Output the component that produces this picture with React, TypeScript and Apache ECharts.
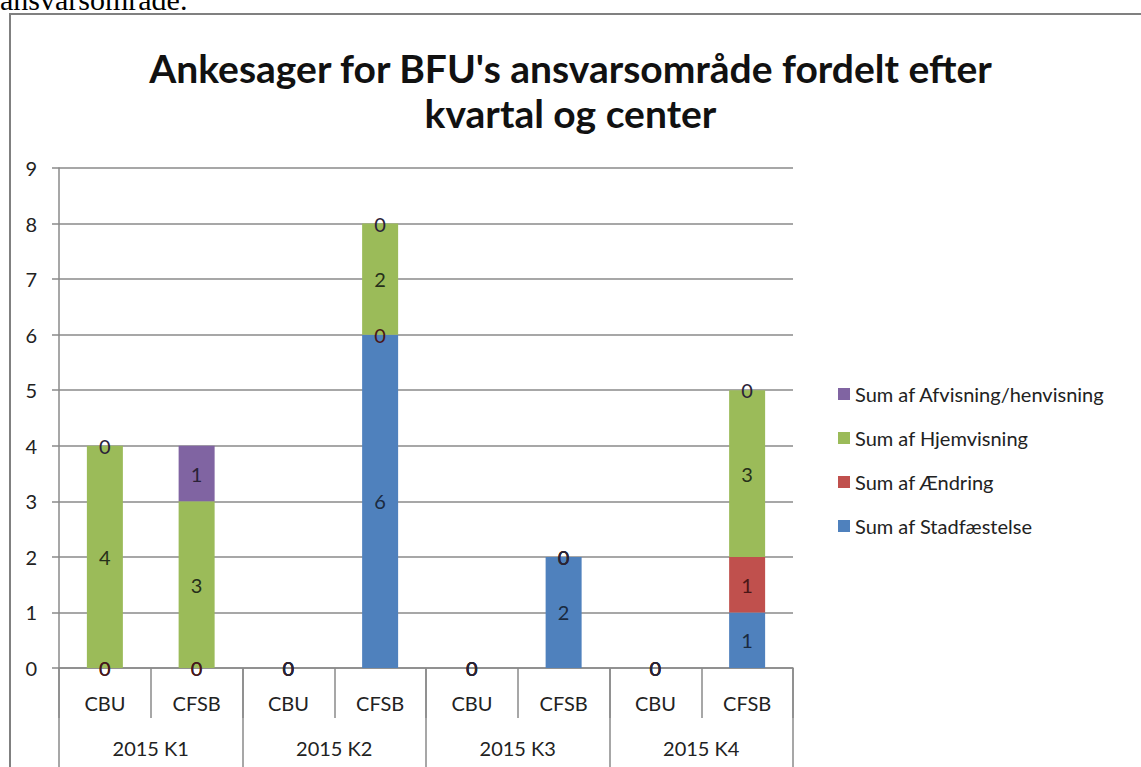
import React, { useEffect, useRef } from "react";
import * as echarts from "echarts";

const centers = ["CBU", "CFSB", "CBU", "CFSB", "CBU", "CFSB", "CBU", "CFSB"];
const quarters = ["2015 K1", "2015 K2", "2015 K3", "2015 K4"];
const seriesNames = [
  "Sum af Stadfæstelse",
  "Sum af Ændring",
  "Sum af Hjemvisning",
  "Sum af Afvisning/henvisning",
];
const stadfaestelse = [0, 0, 0, 6, 0, 2, 0, 1];
const aendring = [0, 0, 0, 0, 0, 0, 0, 1];
const hjemvisning = [4, 3, 0, 2, 0, 0, 0, 3];
const afvisning = [0, 1, 0, 0, 0, 0, 0, 0];
const yMin = 0;
const yMax = 9;
const yStep = 1;

const colors = ["#4F81BD", "#C0504D", "#9BBB59", "#8064A2"];
const labelColors = ["#1a2a40", "#4a1616", "#26301a", "#2a2238"];
const FONT = "Lato, 'Open Sans', sans-serif";

export default function App() {
  const ref = useRef<HTMLDivElement>(null);
  useEffect(() => {
    if (!ref.current) return;
    const chart = echarts.init(ref.current, null, { renderer: "svg" });
    const values = [stadfaestelse, aendring, hjemvisning, afvisning];
    const gridColor = "#8a8a8a";
    chart.setOption({
      animation: false,
      backgroundColor: "#ffffff",
      title: {
        text: "Ankesager for BFU's ansvarsområde fordelt efter\nkvartal og center",
        left: "center",
        top: 45,
        padding: 0,
        textStyle: {
          fontFamily: FONT,
          fontSize: 39,
          fontWeight: "bold",
          color: "#111111",
          lineHeight: 45,
        },
      },
      legend: {
        orient: "vertical",
        left: 833,
        top: 379,
        itemWidth: 12,
        itemHeight: 12,
        itemGap: 24,
        icon: "rect",
        data: [seriesNames[3], seriesNames[2], seriesNames[1], seriesNames[0]],
        textStyle: { fontFamily: FONT, fontSize: 20, color: "#222222" },
      },
      graphic: [
        {
          type: "rect",
          shape: { x: 10, y: 14, width: 1300, height: 900 },
          style: { fill: "none", stroke: "#808080", lineWidth: 2 },
          silent: true,
          z: -1,
        },
        {
          type: "text",
          x: 0,
          y: 14,
          style: {
            text: "ansvarsområde.",
            font: "30px 'Liberation Serif', 'DejaVu Serif', serif",
            fill: "#000000",
            verticalAlign: "bottom",
          },
        },
      ],
      grid: { left: 59, top: 168, width: 734, height: 500, containLabel: false },
      xAxis: [
        {
          type: "category",
          data: centers,
          position: "bottom",
          axisLine: { show: true, lineStyle: { color: gridColor, width: 1.5 } },
          axisTick: { show: true, length: 50, lineStyle: { color: gridColor, width: 1.5 } },
          axisLabel: { margin: 25, fontFamily: FONT, fontSize: 20, color: "#222222" },
          splitLine: { show: false },
        },
        {
          type: "category",
          data: quarters,
          position: "bottom",
          axisLine: { show: false },
          axisTick: { show: true, length: 100, lineStyle: { color: gridColor, width: 1.5 } },
          axisLabel: { margin: 70, fontFamily: FONT, fontSize: 20, color: "#222222" },
          splitLine: { show: false },
        },
      ],
      yAxis: {
        type: "value",
        min: yMin,
        max: yMax,
        interval: yStep,
        axisLine: { show: true, lineStyle: { color: gridColor, width: 1.5 } },
        axisTick: { show: true, length: 7, lineStyle: { color: gridColor, width: 1.5 } },
        axisLabel: { margin: 22, fontFamily: FONT, fontSize: 20, color: "#222222" },
        splitLine: { show: true, lineStyle: { color: gridColor, width: 1.5 } },
      },
      series: seriesNames.map((name, i) => ({
        name,
        type: "bar",
        stack: "total",
        xAxisIndex: 0,
        yAxisIndex: 0,
        barWidth: 36,
        data: values[i],
        itemStyle: { color: colors[i] },
        label: {
          show: true,
          position: "inside",
          fontFamily: FONT,
          fontSize: 20,
          color: labelColors[i],
        },
      })),
    });
    return () => chart.dispose();
  }, []);
  return (
    <div
      ref={ref}
      style={{ position: "fixed", left: 0, top: 0, width: 1141, height: 767 }}
    />
  );
}
